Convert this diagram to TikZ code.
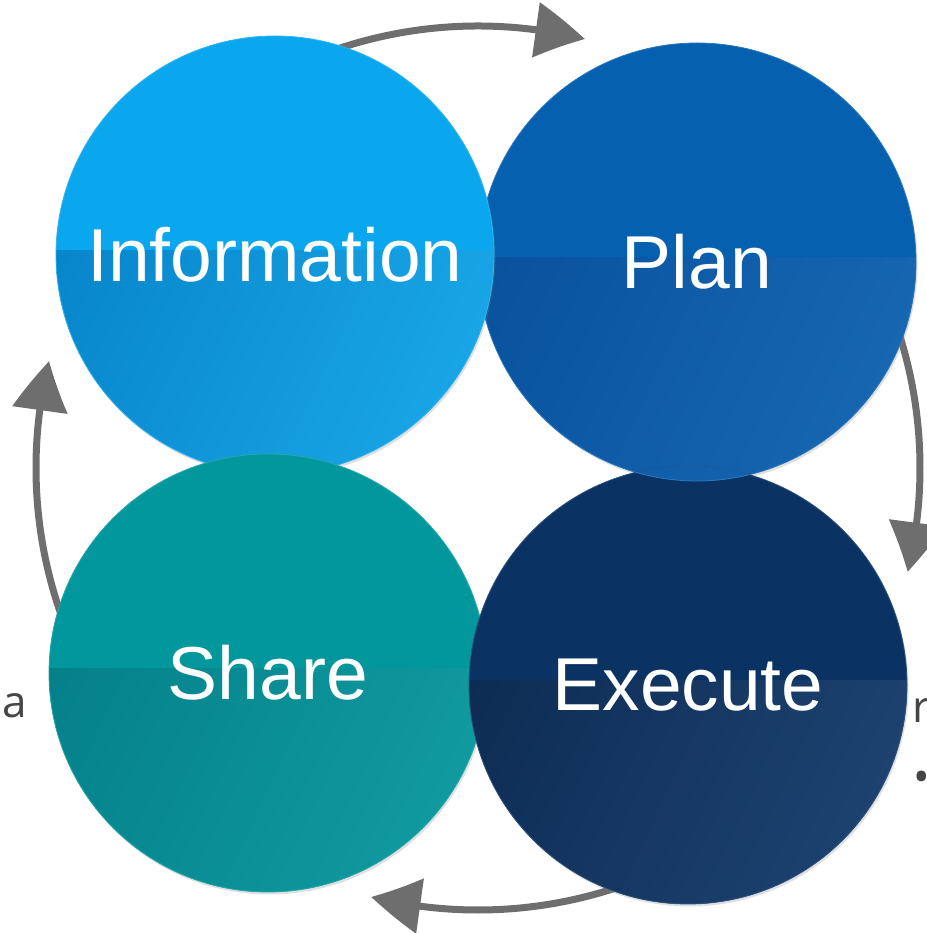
\documentclass[tikz,border=0pt]{standalone}
\usepackage{fontspec}
\setmainfont{Liberation Sans}
\newfontfamily\asidefont{Open Sans}
\usetikzlibrary{arrows.meta,bending,calc,shadows}

\definecolor{infotop}{HTML}{0AA6EE}
\definecolor{infolo}{HTML}{0784C9}
\definecolor{infohi}{HTML}{18A5E6}
\definecolor{plantop}{HTML}{0560B0}
\definecolor{planlo}{HTML}{07509C}
\definecolor{planhi}{HTML}{1766B2}
\definecolor{sharetop}{HTML}{02979C}
\definecolor{sharelo}{HTML}{047F89}
\definecolor{sharehi}{HTML}{109A9F}
\definecolor{exectop}{HTML}{0A3364}
\definecolor{execlo}{HTML}{0C2B52}
\definecolor{exechi}{HTML}{1D4270}
\definecolor{arrowgrey}{HTML}{6E6E6E}
\definecolor{asidegrey}{HTML}{454545}

\begin{document}
\begin{tikzpicture}[x=1pt, y=1pt,
    disc/.style n args={3}{circle, minimum size=438pt, inner sep=0pt, fill=#1, draw=#1!85!white, line width=0.8pt,
        text=white, font=\fontsize{75}{80}\selectfont,
        path picture={\shade[left color=#2, right color=#3, shading angle=65]
            ([yshift=4pt]path picture bounding box.west) rectangle (path picture bounding box.south east);}},
    shadowed/.style={drop shadow={shadow xshift=1.5pt, shadow yshift=-2.5pt, opacity=0.25}},
    cyc/.style={line width=7pt, draw=arrowgrey, -{Triangle[length=50pt, width=54pt, bend]}},
    aside/.style={text=asidegrey, font=\asidefont\fontsize{44}{50}\selectfont, inner sep=0pt}]
    \useasboundingbox (0,0) rectangle (926,933);

    \coordinate (hub) at (478,465);
    \coordinate (t1) at ($(hub)+(109:442pt)$);
    \coordinate (t2) at ($(hub)+(19:442pt)$);
    \coordinate (t3) at ($(hub)+(-70:442pt)$);
    \coordinate (t4) at ($(hub)+(199.5:442pt)$);
    \draw[cyc] (t1) arc[start angle=109, end angle=76, radius=442pt];
    \draw[cyc] (t2) arc[start angle=19, end angle=-13.6, radius=442pt];
    \draw[cyc] (t3) arc[start angle=-70, end angle=-104, radius=442pt];
    \draw[cyc] (t4) arc[start angle=199.5, end angle=166, radius=442pt];

    \node[disc={plantop}{planlo}{planhi}, shadowed] (plan) at (697,671) {Plan};
    \node[disc={infotop}{infolo}{infohi}, shadowed] (info) at (275,678) {Information};
    \node[disc={sharetop}{sharelo}{sharehi}, shadowed] (share) at (268,260) {Share};
    \node[disc={exectop}{execlo}{exechi}, shadowed] (exec) at (688,248) {Execute};
    \begin{scope}
        \clip (exec.center) circle[radius=219pt];
        \node[disc={plantop}{planlo}{planhi}] (planrim) at (plan.center) {};
    \end{scope}

    \node[aside, anchor=base] (margin) at (15,215) {a};
    \node[aside, anchor=base west] (edge) at (912,210) {r};
    \node[aside] (dot) at (922,151) {•};
\end{tikzpicture}
\end{document}
